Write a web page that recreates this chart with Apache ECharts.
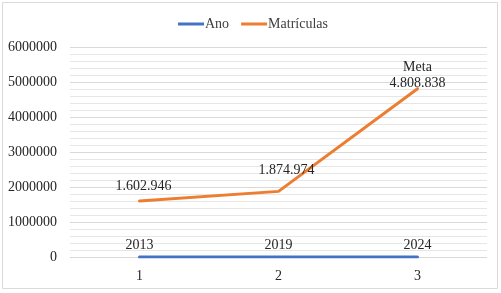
<!DOCTYPE html>
<html>
<head>
<meta charset="utf-8">
<script src="https://cdn.jsdelivr.net/npm/echarts@6/dist/echarts.min.js"></script>
<style>
  html, body { margin: 0; padding: 0; background: #fff; }
  #main { width: 501px; height: 293px; }
</style>
</head>
<body>
<div id="main"></div>
<script>
var categories = ['1', '2', '3'];
var ano = [2013, 2019, 2024];
var matriculas = [1602946, 1874974, 4808838];
var matriculasNotes = ['', '', 'Meta'];
var matriculasLabelOffsets = [[4, -2], [8, -8], [0, 8]];

function ptNumber(v) {
  return String(v).replace(/\B(?=(\d{3})+(?!\d))/g, '.');
}

var serif = '"Liberation Serif", "DejaVu Serif", serif';

var chart = echarts.init(document.getElementById('main'), null, {renderer: 'canvas'});
var option = {
  animation: false,
  textStyle: {fontFamily: serif},
  graphic: [{
    type: 'rect',
    shape: {x: 2.5, y: 2.5, width: 495, height: 286},
    style: {fill: 'none', stroke: '#d9d9d9', lineWidth: 1},
    silent: true
  }],
  legend: {
    top: 12,
    left: 173,
    icon: 'rect',
    itemWidth: 26,
    itemHeight: 3,
    itemGap: 12,
    textStyle: {fontFamily: serif, fontSize: 14, color: '#404040', padding: [0, 0, 0, -4]},
    data: [
      {name: 'Ano', itemStyle: {color: '#4472c4', opacity: 1}},
      {name: 'Matrículas', itemStyle: {color: '#ed7d31', opacity: 1}}
    ]
  },
  grid: {left: 70, right: 14, top: 47, bottom: 36, containLabel: false},
  xAxis: {
    type: 'category',
    data: categories,
    axisLine: {show: false},
    axisTick: {show: false},
    axisLabel: {fontFamily: serif, fontSize: 14, color: '#262626', margin: 12}
  },
  yAxis: {
    type: 'value',
    min: 0,
    max: 6000000,
    interval: 1000000,
    axisLine: {show: false},
    axisTick: {show: false},
    axisLabel: {
      fontFamily: serif, fontSize: 14, color: '#262626', margin: 13,
      formatter: function (v) { return String(v); }
    },
    splitLine: {lineStyle: {color: '#d9d9d9', width: 1}},
    minorTick: {show: false, splitNumber: 5},
    minorSplitLine: {show: true, lineStyle: {color: '#e6e6e6', width: 1}}
  },
  series: [
    {
      name: 'Ano',
      type: 'line',
      data: ano,
      symbol: 'circle',
      symbolSize: 0.1,
      showSymbol: true,
      color: '#4472c4',
      lineStyle: {width: 3, color: '#4472c4', cap: 'round'},
      label: {
        show: true,
        position: 'top',
        distance: 5,
        fontFamily: serif,
        fontSize: 14,
        color: '#262626'
      }
    },
    {
      name: 'Matrículas',
      type: 'line',
      data: matriculas.map(function (v, i) {
        return {
          value: v,
          label: {
            offset: matriculasLabelOffsets[i],
            formatter: (matriculasNotes[i] ? matriculasNotes[i] + '\n' : '') + ptNumber(v)
          }
        };
      }),
      symbol: 'circle',
      symbolSize: 0.1,
      showSymbol: true,
      color: '#ed7d31',
      lineStyle: {width: 3, color: '#ed7d31', cap: 'round'},
      label: {
        show: true,
        position: 'top',
        distance: 5,
        fontFamily: serif,
        fontSize: 14,
        lineHeight: 16,
        color: '#262626'
      }
    }
  ]
};
chart.setOption(option);
</script>
</body>
</html>
